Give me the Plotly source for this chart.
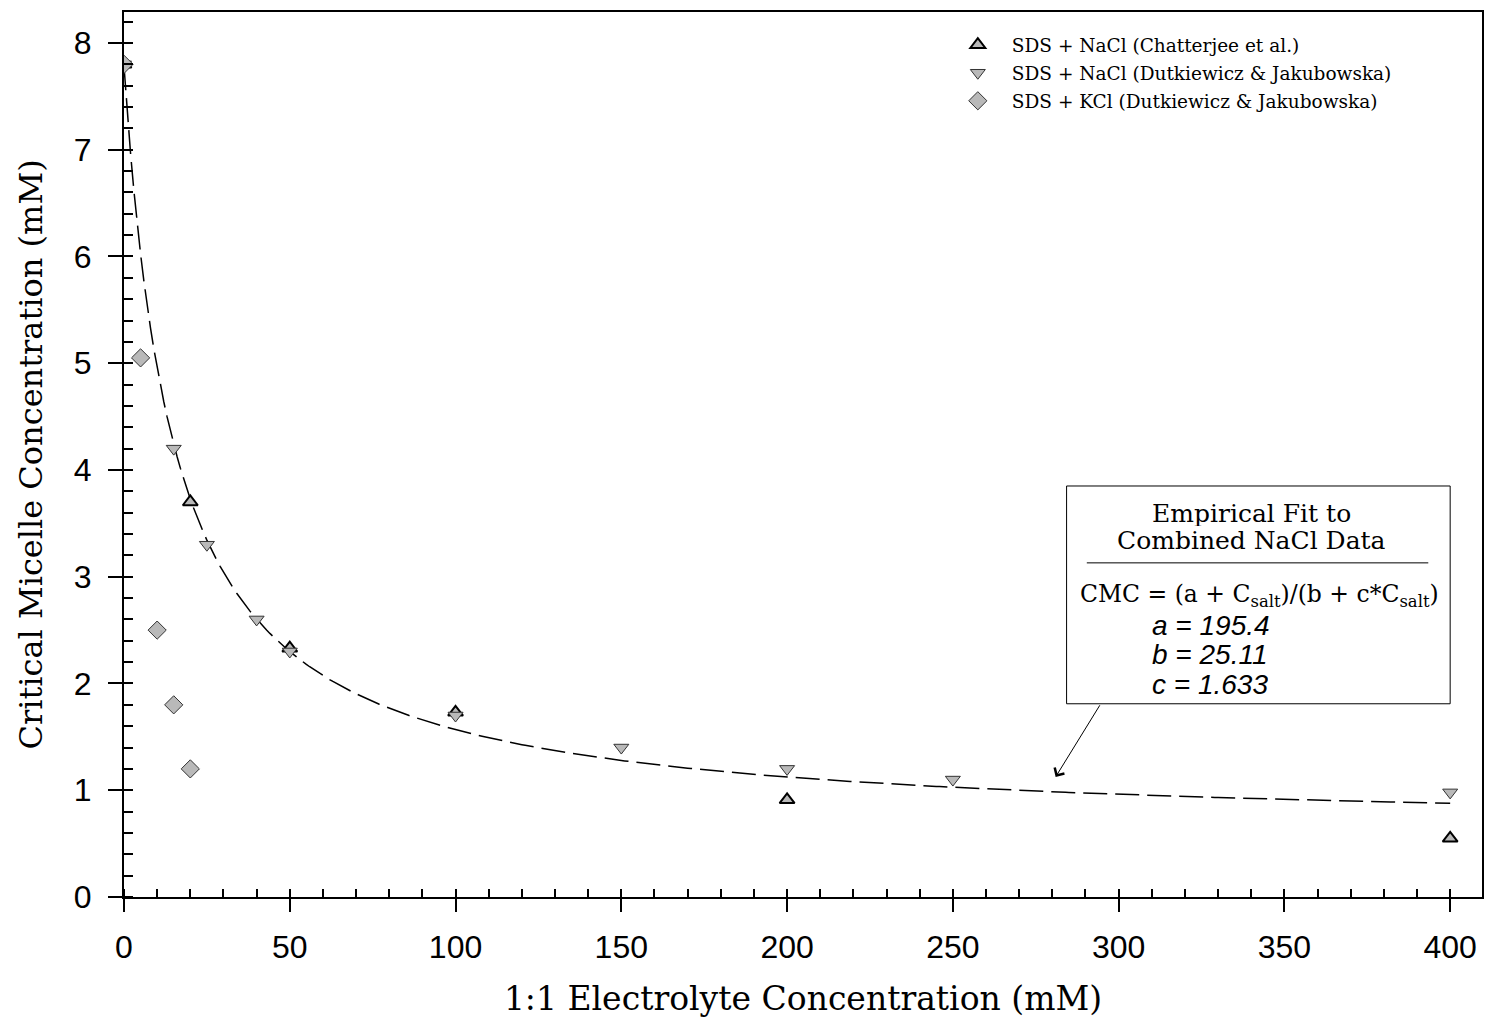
import numpy as np
import plotly.graph_objects as go

# Data
chat_x = [0, 20, 50, 100, 200, 400]
chat_y = [7.8, 3.7, 2.33, 1.73, 0.91, 0.55]

dut_nacl_x = [0, 15, 25, 40, 50, 100, 150, 200, 250, 400]
dut_nacl_y = [7.8, 4.2, 3.3, 2.6, 2.3, 1.7, 1.4, 1.2, 1.1, 0.98]

dut_kcl_x = [0, 5, 10, 15, 20]
dut_kcl_y = [7.8, 5.05, 2.5, 1.8, 1.2]

# Empirical fit parameters (stated in chart)
fit_a, fit_b, fit_c = 195.4, 25.11, 1.633
fit_x = np.linspace(0, 400, 401)
fit_y = (fit_a + fit_x) / (fit_b + fit_c * fit_x)

serif = "DejaVu Serif"
sans = "Liberation Sans"
gray = "#b9b9b9"

fig = go.Figure()
fig.add_trace(go.Scatter(x=fit_x, y=fit_y, mode="lines", showlegend=False,
                         line=dict(color="black", width=1.5, dash="24px,8px"),
                         hoverinfo="skip"))
fig.add_trace(go.Scatter(x=chat_x, y=chat_y, mode="markers",
                         name="SDS + NaCl (Chatterjee et al.)", legendgroup="g1",
                         marker=dict(symbol="triangle-up", size=13, color=gray,
                                     line=dict(color="black", width=2))))
fig.add_trace(go.Scatter(x=dut_nacl_x, y=dut_nacl_y, mode="markers",
                         name="SDS + NaCl (Dutkiewicz & Jakubowska)", legendgroup="g2",
                         marker=dict(symbol="triangle-down", size=13, color=gray,
                                     line=dict(color="#333333", width=1))))
fig.add_trace(go.Scatter(x=dut_kcl_x, y=dut_kcl_y, mode="markers",
                         name="SDS + KCl (Dutkiewicz & Jakubowska)", legendgroup="g3",
                         marker=dict(symbol="diamond", size=14, color=gray,
                                     line=dict(color="#333333", width=1))))

# Fit box
fig.add_shape(type="rect", x0=284.3, x1=400, y0=1.81, y1=3.85, xref="x", yref="y",
              line=dict(color="black", width=1), fillcolor="white", layer="above")
fig.add_shape(type="line", x0=290.4, x1=393.4, y0=3.13, y1=3.13, xref="x", yref="y",
              line=dict(color="black", width=1))

box_font = dict(family=serif, size=25, color="black")
fig.add_annotation(x=340.1, y=3.597, xref="x", yref="y", showarrow=False, height=26,
                   text="Empirical Fit to", font=box_font)
fig.add_annotation(x=340.1, y=3.344, xref="x", yref="y", showarrow=False, height=26,
                   text="Combined NaCl Data", font=box_font)
fig.add_annotation(x=342.5, y=2.82, xref="x", yref="y", showarrow=False,
                   text="CMC = (a + C<sub>salt</sub>)/(b + c*C<sub>salt</sub>)",
                   font=dict(family=serif, size=23.5, color="black"))
par_font = dict(family=sans, size=28, color="black")
for txt, yy in [("a = 195.4", 2.545), ("b = 25.11", 2.270), ("c = 1.633", 1.995)]:
    fig.add_annotation(x=309.6, y=yy, xref="x", yref="y", showarrow=False, height=27,
                       xanchor="left", text="<i>" + txt + "</i>", font=par_font)
# Arrow
fig.add_annotation(x=281.0, y=1.125, ax=294.6, ay=1.81, xref="x", yref="y",
                   axref="x", ayref="y", showarrow=True, text="",
                   arrowhead=4, arrowsize=2.2, arrowwidth=1, arrowcolor="black")

fig.update_layout(
    width=1486, height=1023,
    margin=dict(l=124, r=2, t=12, b=126),
    plot_bgcolor="white", paper_bgcolor="white",
    legend=dict(x=0.6037, y=0.984, xanchor="left", yanchor="top",
                font=dict(family=serif, size=18.5, color="black"),
                bgcolor="rgba(0,0,0,0)", tracegroupgap=1, itemwidth=58),
)
fig.update_xaxes(range=[0, 409.6], showline=True, linecolor="black", linewidth=2,
                 mirror=True, showgrid=False, zeroline=False,
                 ticks="outside", ticklen=13, tickwidth=2, tickcolor="black",
                 tick0=0, dtick=50, ticklabelstandoff=8,
                 tickfont=dict(family=sans, size=32, color="black"),
                 minor=dict(ticks="inside", ticklen=8, tickwidth=1.5, dtick=10,
                            tickcolor="black", showgrid=False),
                 title=dict(text="1:1 Electrolyte Concentration (mM)",
                            font=dict(family=serif, size=33, color="black"),
                            standoff=22))
fig.update_yaxes(range=[0, 8.29], showline=True, linecolor="black", linewidth=2,
                 mirror=True, showgrid=False, zeroline=False,
                 ticks="outside", ticklen=14, tickwidth=2, tickcolor="black",
                 tick0=0, dtick=1, ticklabelstandoff=10,
                 tickfont=dict(family=sans, size=32, color="black"),
                 minor=dict(ticks="inside", ticklen=9, tickwidth=1.5, dtick=0.2,
                            tickcolor="black", showgrid=False),
                 title=dict(text="Critical Micelle Concentration (mM)",
                            font=dict(family=serif, size=32, color="black"),
                            standoff=22))

fig.write_html("out.html")
